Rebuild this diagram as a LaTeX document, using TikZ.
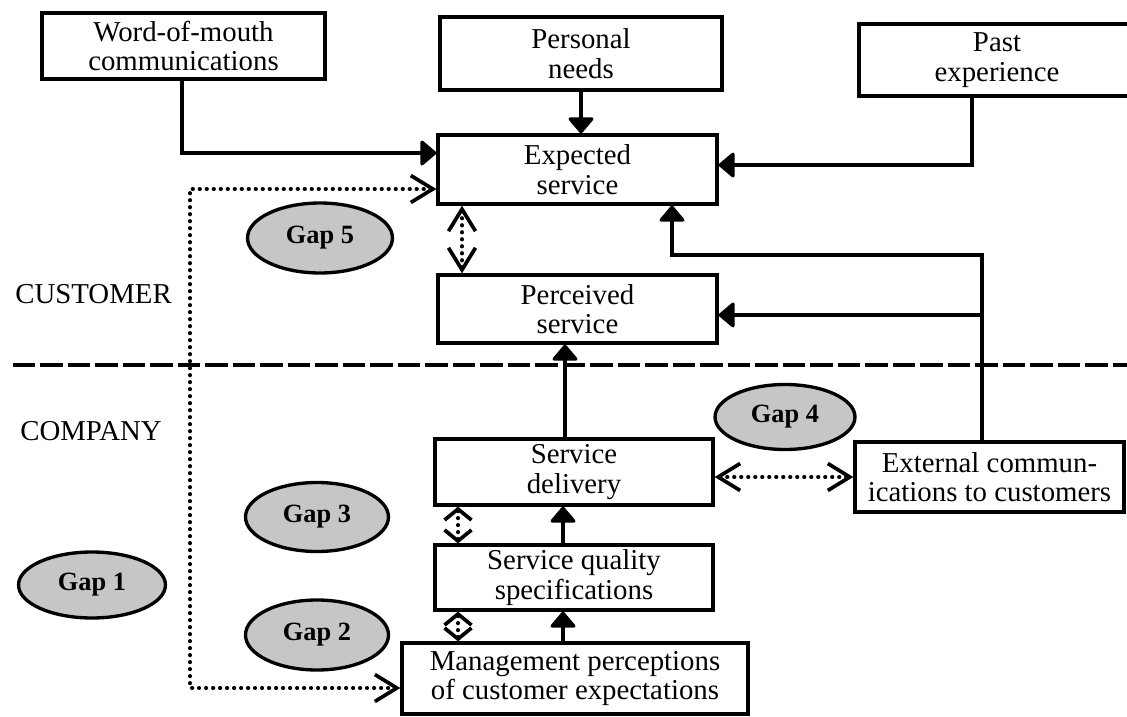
\documentclass[tikz,border=0pt]{standalone}
\usepackage{fontspec}
\setmainfont{Liberation Serif}
\usetikzlibrary{arrows.meta,shapes.geometric,calc}
\begin{document}
\begin{tikzpicture}[x=0.02cm,y=-0.02cm,
 box/.style={draw,line width=1.9pt,inner sep=0pt,align=center,font=\fontsize{16.4}{16.8}\selectfont},
 gap/.style={draw,ellipse,line width=1.9pt,fill=gray!45,inner sep=0pt,font=\bfseries\fontsize{15}{15}\selectfont},
 conn/.style={line width=1.9pt,-{Triangle[width=0.56cm,length=0.34cm,round]}},
 dots/.style={line width=2.1pt,dash pattern=on 0.01cm off 0.13cm,line cap=round},
 barb/.style={{Straight Barb[length=0.44cm,width=0.54cm]}-{Straight Barb[length=0.44cm,width=0.54cm]}},
 sbarb/.style={{Straight Barb[length=0.22cm,width=0.54cm]}-{Straight Barb[length=0.22cm,width=0.54cm]}},
 lab/.style={anchor=west,inner sep=0pt,font=\fontsize{16.4}{16.8}\selectfont}]
\useasboundingbox (0,0) rectangle (1127,717);
% boxes
\node[box,minimum width=5.66cm,minimum height=1.32cm] (wom) at (183.5,46) {Word-of-mouth\\communications};
\node[box,minimum width=5.64cm,minimum height=1.46cm] (pn) at (581,53.5) {Personal\\needs};
\node[box,minimum width=5.52cm,minimum height=1.44cm] (pe) at (997,60) {Past\\experience};
\node[box,minimum width=5.58cm,minimum height=1.38cm] (es) at (577.5,169.5) {Expected\\service};
\node[box,minimum width=5.58cm,minimum height=1.36cm] (ps) at (577.5,309) {Perceived\\service};
\node[box,minimum width=5.56cm,minimum height=1.32cm] (sd) at (574,472) {Service\\delivery};
\node[box,minimum width=5.56cm,minimum height=1.30cm] (sq) at (574,577.5) {Service quality\\specifications};
\node[box,minimum width=6.92cm,minimum height=1.42cm] (mp) at (575,678.5) {Management perceptions\\of customer expectations};
\node[box,minimum width=5.38cm,minimum height=1.40cm] (ec) at (989.5,477) {External commun-\\ications to customers};
% gaps
\node[gap,minimum width=2.9cm,minimum height=1.4cm] (g5) at (320,238) {Gap 5};
\node[gap,minimum width=2.8cm,minimum height=1.3cm] (g4) at (785,417) {Gap 4};
\node[gap,minimum width=2.86cm,minimum height=1.38cm] (g3) at (317,517) {Gap 3};
\node[gap,minimum width=2.86cm,minimum height=1.4cm] (g2) at (317,635) {Gap 2};
\node[gap,minimum width=2.94cm,minimum height=1.32cm] (g1) at (92,585) {Gap 1};
% labels
\node[lab] (cust) at (15,294) {CUSTOMER};
\node[lab] (comp) at (20,431) {COMPANY};
% divider
\draw[line width=2.8pt,dash pattern=on 0.45cm off 0.1cm] (13,365) -- (1127,365);
% solid connectors
\draw[conn] (wom.south -| 182,0) |- (es.west |- 0,153);
\draw[conn] (pn.south -| 581,0) -- (es.north -| 581,0);
\draw[conn] (pe.south -| 972,0) |- (es.east |- 0,165);
\draw[conn] (ec.north -| 982,0) |- (ps.east |- 0,315);
\draw[conn] (ec.north -| 982,0) |- (672,255) -- (es.south -| 672,0);
\draw[conn] (sd.north -| 565,0) -- (ps.south -| 565,0);
\draw[conn] (sq.north -| 563,0) -- (sd.south -| 563,0);
\draw[conn] (mp.north -| 563,0) -- (sq.south -| 563,0);
% dotted gap connectors
\draw[dots,barb] (es.west |- 0,189) -| (190,688) -- (mp.west |- 0,688);
\draw[dots,barb] (es.south -| 462,0) -- (ps.north -| 462,0);
\draw[dots,sbarb] (sd.south -| 458,0) -- (sq.north -| 458,0);
\draw[dots,sbarb] (sq.south -| 458,0) -- (mp.north -| 458,0);
\draw[dots,barb] (sd.east |- 0,477) -- (ec.west |- 0,477);
\end{tikzpicture}
\end{document}
